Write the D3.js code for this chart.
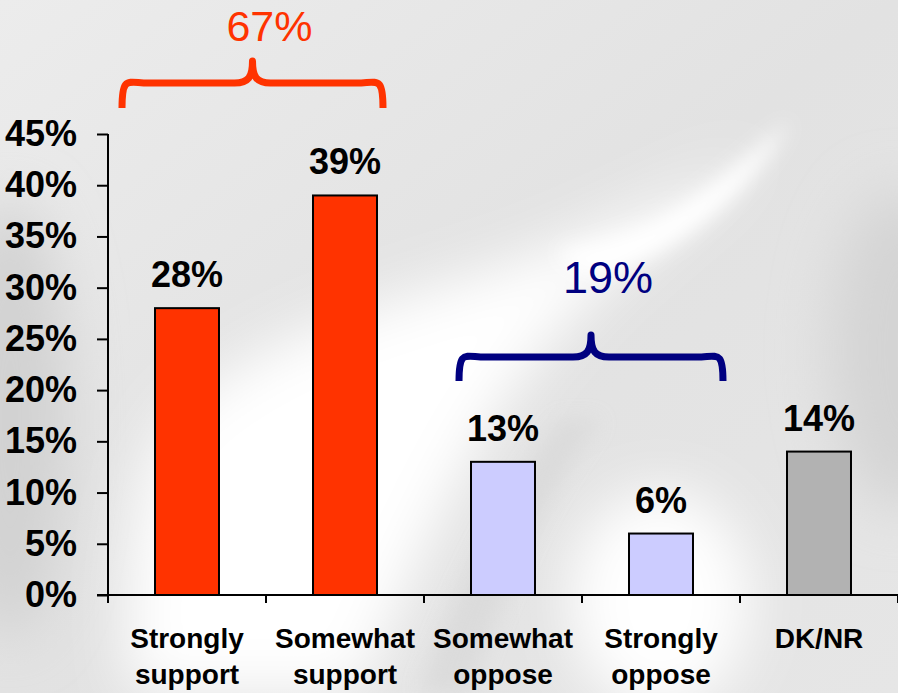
<!DOCTYPE html>
<html>
<head>
<meta charset="utf-8">
<script src="https://cdn.jsdelivr.net/npm/d3@7"></script>
<style>
html,body{margin:0;padding:0;background:#fff;}
svg{display:block;}
text{font-family:"Liberation Sans",Arial,sans-serif;}
</style>
</head>
<body>
<svg id="chart" width="898" height="693"></svg>
<script>
// ---- data ----
const categories = ["Strongly support", "Somewhat support", "Somewhat oppose", "Strongly oppose", "DK/NR"];
const categoryLines = [["Strongly", "support"], ["Somewhat", "support"], ["Somewhat", "oppose"], ["Strongly", "oppose"], ["DK/NR"]];
const values = [28, 39, 13, 6, 14];
const barColors = ["#FF3300", "#FF3300", "#CCCCFF", "#CCCCFF", "#B2B2B2"];
const yTicks = [0, 5, 10, 15, 20, 25, 30, 35, 40, 45];
const groupLabels = ["67%", "19%"];
const groupSpans = [[0, 1], [2, 3]];
const groupColors = ["#FF3300", "#000080"];

const svg = d3.select("#chart");
const W = 898, H = 693;

// ---- background ----
const defs = svg.append("defs");
const bg = defs.append("linearGradient").attr("id", "bgGrad")
  .attr("x1", "0").attr("y1", "0").attr("x2", "1").attr("y2", "1");
bg.append("stop").attr("offset", "0").attr("stop-color", "#ececec");
bg.append("stop").attr("offset", "0.5").attr("stop-color", "#e2e2e2");
bg.append("stop").attr("offset", "1").attr("stop-color", "#e6e6e6");
defs.append("filter").attr("id", "blur").attr("x", "-50%").attr("y", "-50%").attr("width", "200%").attr("height", "200%")
  .append("feGaussianBlur").attr("stdDeviation", 28);
defs.append("filter").attr("id", "blur2").attr("x", "-50%").attr("y", "-50%").attr("width", "200%").attr("height", "200%")
  .append("feGaussianBlur").attr("stdDeviation", 10);

svg.append("rect").attr("width", W).attr("height", H).attr("fill", "url(#bgGrad)");
const bgG = svg.append("g");
bgG.append("ellipse").attr("cx", 10).attr("cy", 420).attr("rx", 60).attr("ry", 220)
  .attr("fill", "#d2d2d2").attr("filter", "url(#blur)");
bgG.append("ellipse").attr("cx", 900).attr("cy", 350).attr("rx", 70).attr("ry", 160)
  .attr("fill", "#d4d4d4").attr("filter", "url(#blur)");
bgG.append("path")
  .attr("d", "M130,693 L360,693 C420,560 470,430 560,330 C620,260 680,220 760,150 C680,190 600,230 520,260 C400,300 260,330 170,420 C130,480 120,600 130,693 Z")
  .attr("fill", "#ffffff").attr("filter", "url(#blur)");
bgG.append("path")
  .attr("d", "M560,250 C620,240 690,210 790,120 C760,180 700,240 620,270 C590,280 560,270 560,250 Z")
  .attr("fill", "#ffffff").attr("filter", "url(#blur2)");
bgG.append("ellipse").attr("cx", 660).attr("cy", 600).attr("rx", 90).attr("ry", 110)
  .attr("fill", "#ffffff").attr("filter", "url(#blur)");
bgG.append("path")
  .attr("d", "M420,693 L470,693 C500,600 540,500 600,420 L560,420 C500,500 450,600 420,693 Z")
  .attr("fill", "#d8d8d8").attr("filter", "url(#blur2)").attr("opacity", 0.7);

// ---- scales ----
const x = d3.scaleBand().domain(categories).range([108, 898])
  .paddingInner(0.595).paddingOuter(0.2975);
const y = d3.scaleLinear().domain([0, 45]).range([595, 134]);
const step = x.step();

// ---- bars ----
svg.append("g").selectAll("rect").data(values).join("rect")
  .attr("x", (d, i) => x(categories[i]))
  .attr("y", d => y(d))
  .attr("width", x.bandwidth())
  .attr("height", d => y(0) - y(d))
  .attr("fill", (d, i) => barColors[i])
  .attr("stroke", "#000").attr("stroke-width", 2);

// ---- value labels ----
svg.append("g").selectAll("text").data(values).join("text")
  .attr("x", (d, i) => x(categories[i]) + x.bandwidth() / 2)
  .attr("y", d => y(d) - 21)
  .attr("text-anchor", "middle")
  .attr("font-size", 36).attr("font-weight", "bold").attr("fill", "#000")
  .text(d => d + "%");

// ---- y axis ----
const yAxis = d3.axisLeft(y).tickValues(yTicks).tickSize(11).tickSizeOuter(0)
  .tickFormat(d => d + "%").tickPadding(20);
const yg = svg.append("g").attr("transform", "translate(108,0)").call(yAxis);
yg.select(".domain").remove();
yg.append("line").attr("x1", 0).attr("x2", 0).attr("y1", y(45)).attr("y2", y(0) + 8)
  .attr("stroke", "#000").attr("stroke-width", 2);
yg.selectAll(".tick line").attr("stroke", "#000").attr("stroke-width", 2);
yg.selectAll(".tick text").attr("font-size", 36).attr("font-weight", "bold").attr("fill", "#000")
  .attr("font-family", "'Liberation Sans',Arial,sans-serif");

// ---- x axis ----
const xg = svg.append("g");
xg.append("line").attr("x1", 97).attr("x2", 898).attr("y1", y(0)).attr("y2", y(0))
  .attr("stroke", "#000").attr("stroke-width", 2);
const boundaries = categories.map(c => x(c) + x.bandwidth() / 2 - step / 2)
  .concat([x(categories[categories.length - 1]) + x.bandwidth() / 2 + step / 2]);
xg.selectAll("line.tk").data(boundaries.slice(1)).join("line").attr("class", "tk")
  .attr("x1", d => d).attr("x2", d => d).attr("y1", y(0)).attr("y2", y(0) + 8)
  .attr("stroke", "#000").attr("stroke-width", 2);
const labels = xg.selectAll("text").data(categoryLines).join("text")
  .attr("x", (d, i) => x(categories[i]) + x.bandwidth() / 2)
  .attr("y", 648)
  .attr("text-anchor", "middle")
  .attr("font-size", 28).attr("font-weight", "bold").attr("fill", "#000");
labels.selectAll("tspan").data(d => d).join("tspan")
  .attr("x", function () { return d3.select(this.parentNode).attr("x"); })
  .attr("dy", (d, i) => i === 0 ? 0 : 36)
  .text(d => d);

// ---- group braces ----
function bracePath(x1, x2, cx, yEnd, yH, yTip) {
  const r = 20, r2 = 14;
  return `M${x1},${yEnd} C${x1},${yH - 8} ${x1 + 6},${yH} ${x1 + r + 6},${yH}`
    + ` L${cx - r2 - 4},${yH} C${cx - 4},${yH} ${cx},${yH - 6} ${cx},${yTip}`
    + ` C${cx},${yH - 6} ${cx + 4},${yH} ${cx + r2 + 4},${yH}`
    + ` L${x2 - r - 6},${yH} C${x2 - 6},${yH} ${x2},${yH - 8} ${x2},${yEnd}`;
}
const braceGeom = [
  { x1: x(categories[0]) - 33, x2: x(categories[1]) + x.bandwidth() + 6, yEnd: 108, yH: 83, yTip: 61, labelY: 41, labelDx: 17, fs: 43 },
  { x1: x(categories[2]) - 12, x2: x(categories[3]) + x.bandwidth() + 30, yEnd: 381, yH: 357, yTip: 335, labelY: 293, labelDx: 17, fs: 45 }
];
groupSpans.forEach((span, gi) => {
  const g = braceGeom[gi];
  const cx = (g.x1 + g.x2) / 2;
  svg.append("path").attr("d", bracePath(g.x1, g.x2, cx, g.yEnd, g.yH, g.yTip))
    .attr("fill", "none").attr("stroke", groupColors[gi]).attr("stroke-width", 7)
    .attr("stroke-linejoin", "round");
  svg.append("text").attr("x", cx + g.labelDx).attr("y", g.labelY)
    .attr("text-anchor", "middle").attr("font-size", g.fs)
    .attr("fill", groupColors[gi]).text(groupLabels[gi]);
});
</script>
</body>
</html>
